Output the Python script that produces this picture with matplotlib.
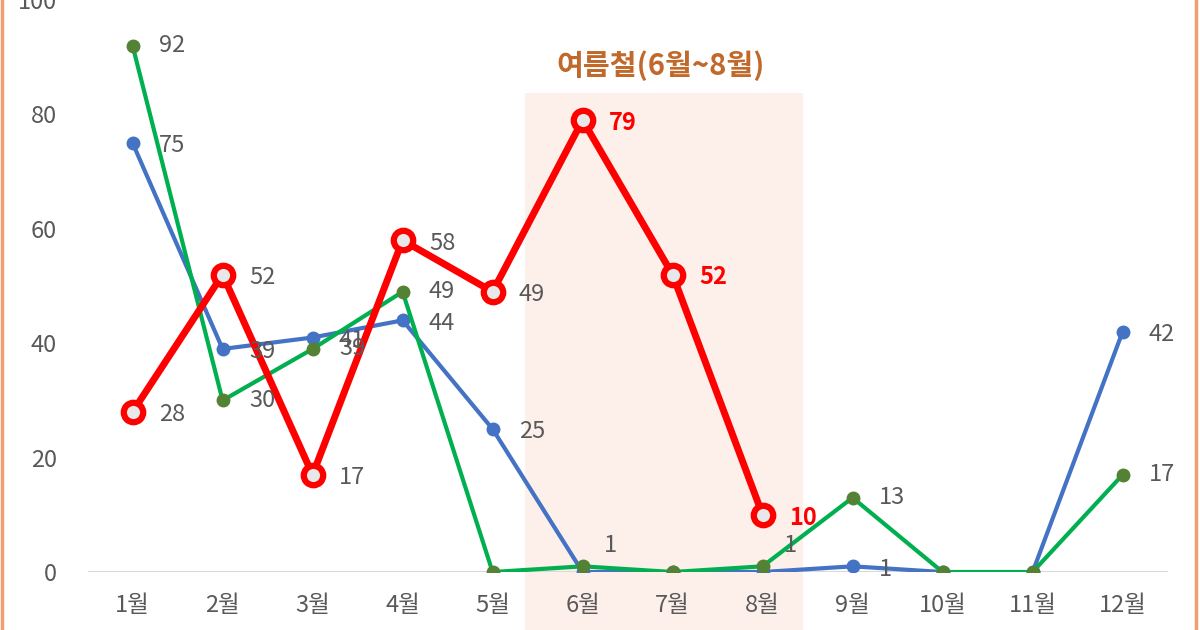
import matplotlib
matplotlib.use("Agg")
import matplotlib.pyplot as plt
from matplotlib.patches import Rectangle
from matplotlib.lines import Line2D
import numpy as np

plt.rcParams['font.family'] = ['Noto Sans CJK KR', 'DejaVu Sans']

months = ['1월', '2월', '3월', '4월', '5월', '6월', '7월', '8월', '9월', '10월', '11월', '12월']
blue_vals = [75, 39, 41, 44, 25, 0, 0, 0, 1, 0, 0, 42]
green_vals = [92, 30, 39, 49, 0, 1, 0, 1, 13, 0, 0, 17]
red_vals = [28, 52, 17, 58, 49, 79, 52, 10]
summer_title = '여름철(6월~8월)'

# which labels to show (zeros hidden in the original)
blue_show = [True, True, True, True, True, False, False, False, True, False, False, True]
green_show = [True, True, True, True, False, True, False, True, True, False, False, True]

BLUE = '#4472C4'
GREEN = '#00B050'
GREEN_MK = '#548235'
RED = '#FF0000'
GREY = '#595959'
FS = 17

fig = plt.figure(figsize=(12, 6.3), dpi=100)
ax = fig.add_axes([0.073, 0.092, 0.900, 0.908])

x = np.arange(1, 13)
xr = np.arange(1, len(red_vals) + 1)

# summer shading
ax.add_patch(Rectangle((5.36, -10.2), 8.45 - 5.36, 83.7 + 10.2,
                       facecolor='#FDF0EA', edgecolor='none', zorder=0, clip_on=False))
ax.text(6.87, 88.5, summer_title, ha='center', va='center', fontsize=21,
        fontweight='bold', color='#C0692A')

ax.axhline(0, color='#D9D9D9', lw=1.5, zorder=1)

ax.plot(x, blue_vals, color=BLUE, lw=3, marker='o', ms=9, zorder=3)
ax.plot(x, green_vals, color=GREEN, lw=3, marker='o', ms=9,
        markerfacecolor=GREEN_MK, markeredgecolor=GREEN_MK, zorder=4)
ax.plot(xr, red_vals, color=RED, lw=5, marker='o', ms=14,
        markerfacecolor='#E8E8E8', markeredgecolor=RED, markeredgewidth=4.5, zorder=5)

for i, v in enumerate(blue_vals):
    if blue_show[i]:
        ax.annotate(str(v), (x[i], v), xytext=(19, -2), textcoords='offset points',
                    ha='left', va='center', fontsize=FS, color=GREY, zorder=6)
for i, v in enumerate(green_vals):
    if green_show[i]:
        off = (15, 15) if v <= 1 else (19, 0)
        ax.annotate(str(v), (x[i], v), xytext=off, textcoords='offset points',
                    ha='left', va='center', fontsize=FS, color=GREY, zorder=6)
for i, v in enumerate(red_vals):
    if i >= 5:
        ax.annotate(str(v), (xr[i], v), xytext=(19, -2), textcoords='offset points',
                    ha='left', va='center', fontsize=FS, color=RED,
                    fontweight='bold', zorder=6)
    else:
        ax.annotate(str(v), (xr[i], v), xytext=(19, -2), textcoords='offset points',
                    ha='left', va='center', fontsize=FS, color=GREY, zorder=6)

ax.set_xlim(0.5, 12.5)
ax.set_ylim(0, 100)
ax.set_xticks(x)
ax.set_xticklabels(months)
ax.set_yticks(np.arange(0, 101, 20))
ax.tick_params(axis='both', length=0, labelsize=FS, colors=GREY)
ax.tick_params(axis='x', pad=16)
ax.tick_params(axis='y', pad=22)
for s in ax.spines.values():
    s.set_visible(False)
ax.patch.set_alpha(0)

# orange frame edges
fig.add_artist(Line2D([0.002, 0.002], [0, 1], color='#F0A070', lw=2.5))
fig.add_artist(Line2D([0.997, 0.997], [0, 1], color='#F0A070', lw=2.5))

fig.savefig('out.png', dpi=100)
